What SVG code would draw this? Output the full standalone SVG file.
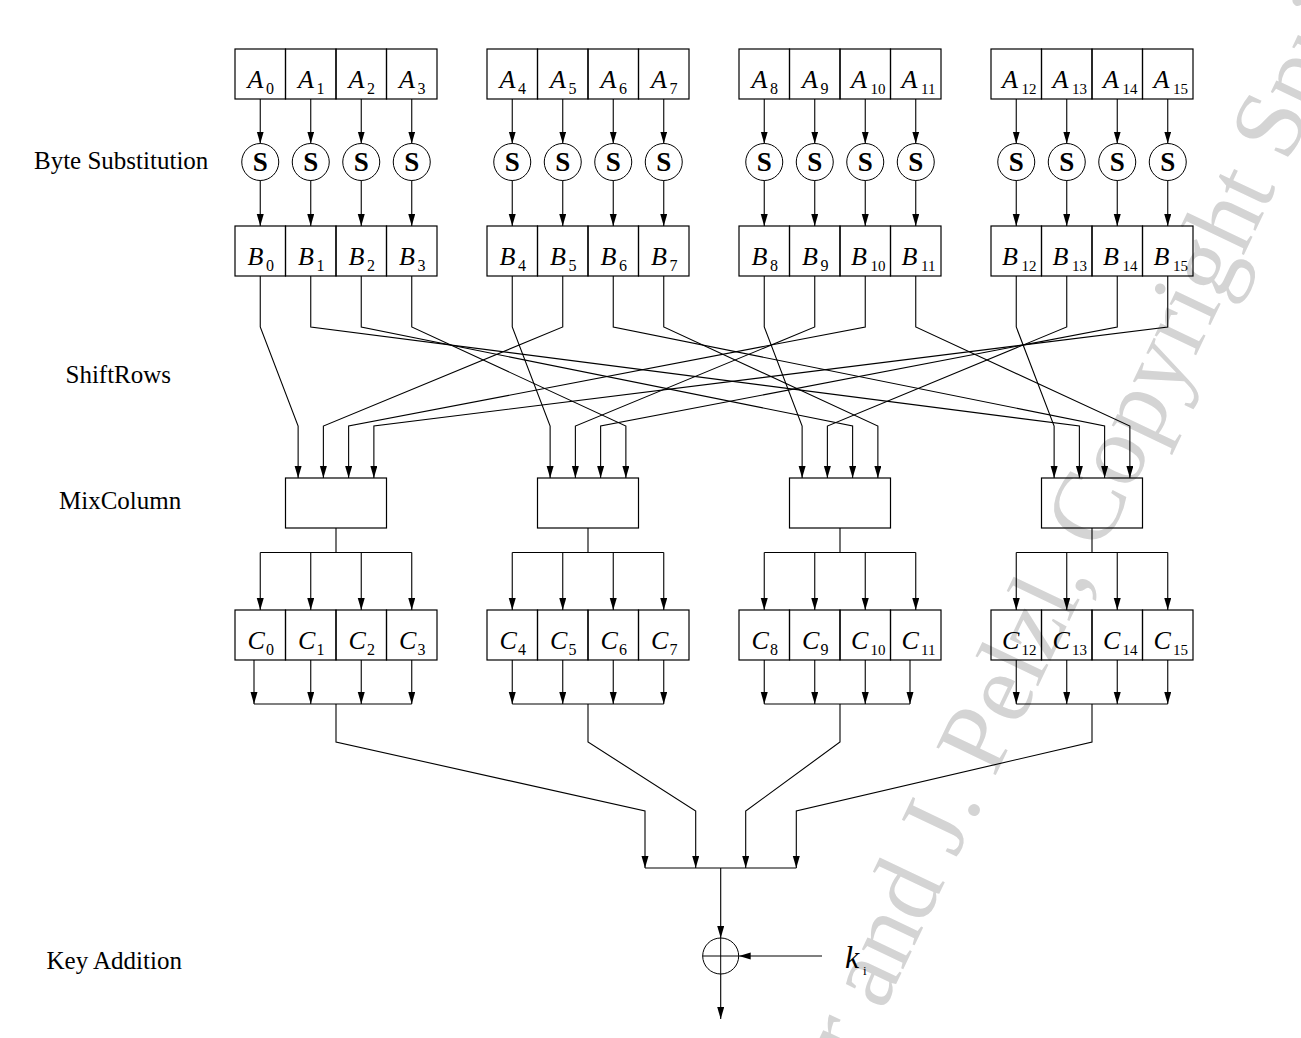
<svg xmlns="http://www.w3.org/2000/svg" width="1301" height="1038" viewBox="0 0 1301 1038">
<defs>
<marker id="arr" markerUnits="userSpaceOnUse" markerWidth="12" markerHeight="8" refX="12" refY="3.5" orient="auto"><path d="M0,0 L12,3.5 L0,7 z" fill="#000"/></marker>
<style>
rect{fill:none;stroke:#000;stroke-width:1.2}
circle{fill:none;stroke:#000;stroke-width:1}
.v{font-family:"Liberation Serif",serif;font-style:italic;font-size:26px;fill:#000}
.s{font-family:"Liberation Serif",serif;font-size:16px;fill:#000}
.d{font-family:"Liberation Serif",serif;font-size:15px;fill:#000}
.sb{font-family:"Liberation Serif",serif;font-weight:bold;font-size:27px;text-anchor:middle;fill:#000}
.lbl{font-family:"Liberation Serif",serif;font-size:25px;fill:#000}
.wm{font-family:"Liberation Serif",serif;font-size:100px;fill:#d4d4d4}
#connectors path,#connectors line{fill:none;stroke:#000;stroke-width:1.1}
.a{marker-end:url(#arr)}
</style>
</defs>
<rect x="0" y="0" width="1301" height="1038" style="fill:#fff;stroke:none"/>
<text class="wm" transform="translate(858,1064) rotate(-64.5)">r and J. Pelzl, Copyright Spri</text>

<g id="labels">
<text class="lbl" x="34" y="169">Byte Substitution</text>
<text class="lbl" x="65.5" y="383">ShiftRows</text>
<text class="lbl" x="59" y="509">MixColumn</text>
<text class="lbl" x="46.5" y="968.5">Key Addition</text>
</g>

<g id="connectors">
<!-- A to S -->
<line class="a" x1="260.25" y1="99" x2="260.25" y2="143.5"/><line class="a" x1="310.75" y1="99" x2="310.75" y2="143.5"/><line class="a" x1="361.25" y1="99" x2="361.25" y2="143.5"/><line class="a" x1="411.75" y1="99" x2="411.75" y2="143.5"/>
<line class="a" x1="512.25" y1="99" x2="512.25" y2="143.5"/><line class="a" x1="562.75" y1="99" x2="562.75" y2="143.5"/><line class="a" x1="613.25" y1="99" x2="613.25" y2="143.5"/><line class="a" x1="663.75" y1="99" x2="663.75" y2="143.5"/>
<line class="a" x1="764.25" y1="99" x2="764.25" y2="143.5"/><line class="a" x1="814.75" y1="99" x2="814.75" y2="143.5"/><line class="a" x1="865.25" y1="99" x2="865.25" y2="143.5"/><line class="a" x1="915.75" y1="99" x2="915.75" y2="143.5"/>
<line class="a" x1="1016.25" y1="99" x2="1016.25" y2="143.5"/><line class="a" x1="1066.75" y1="99" x2="1066.75" y2="143.5"/><line class="a" x1="1117.25" y1="99" x2="1117.25" y2="143.5"/><line class="a" x1="1167.75" y1="99" x2="1167.75" y2="143.5"/>
<!-- S to B -->
<line class="a" x1="260.25" y1="180.5" x2="260.25" y2="226"/><line class="a" x1="310.75" y1="180.5" x2="310.75" y2="226"/><line class="a" x1="361.25" y1="180.5" x2="361.25" y2="226"/><line class="a" x1="411.75" y1="180.5" x2="411.75" y2="226"/>
<line class="a" x1="512.25" y1="180.5" x2="512.25" y2="226"/><line class="a" x1="562.75" y1="180.5" x2="562.75" y2="226"/><line class="a" x1="613.25" y1="180.5" x2="613.25" y2="226"/><line class="a" x1="663.75" y1="180.5" x2="663.75" y2="226"/>
<line class="a" x1="764.25" y1="180.5" x2="764.25" y2="226"/><line class="a" x1="814.75" y1="180.5" x2="814.75" y2="226"/><line class="a" x1="865.25" y1="180.5" x2="865.25" y2="226"/><line class="a" x1="915.75" y1="180.5" x2="915.75" y2="226"/>
<line class="a" x1="1016.25" y1="180.5" x2="1016.25" y2="226"/><line class="a" x1="1066.75" y1="180.5" x2="1066.75" y2="226"/><line class="a" x1="1117.25" y1="180.5" x2="1117.25" y2="226"/><line class="a" x1="1167.75" y1="180.5" x2="1167.75" y2="226"/>
<!-- ShiftRows -->
<path class="a" d="M260.25 276V327L298.125 426V478"/>
<path class="a" d="M562.75 276V327L323.375 426V478"/>
<path class="a" d="M865.25 276V327L348.625 426V478"/>
<path class="a" d="M1167.75 276V327L373.875 426V478"/>
<path class="a" d="M512.25 276V327L550.125 426V478"/>
<path class="a" d="M814.75 276V327L575.375 426V478"/>
<path class="a" d="M1117.25 276V327L600.625 426V478"/>
<path class="a" d="M411.75 276V327L625.875 426V478"/>
<path class="a" d="M764.25 276V327L802.125 426V478"/>
<path class="a" d="M1066.75 276V327L827.375 426V478"/>
<path class="a" d="M361.25 276V327L852.625 426V478"/>
<path class="a" d="M663.75 276V327L877.875 426V478"/>
<path class="a" d="M1016.25 276V327L1054.125 426V478"/>
<path class="a" d="M310.75 276V327L1079.375 426V478"/>
<path class="a" d="M613.25 276V327L1104.625 426V478"/>
<path class="a" d="M915.75 276V327L1129.875 426V478"/>
<!-- MixColumn to C -->
<path d="M336 528V552.5M260.25 552.5H411.75M588 528V552.5M512.25 552.5H663.75M840 528V552.5M764.25 552.5H915.75M1092 528V552.5M1016.25 552.5H1167.75"/>
<line class="a" x1="260.25" y1="552.5" x2="260.25" y2="610"/><line class="a" x1="310.75" y1="552.5" x2="310.75" y2="610"/><line class="a" x1="361.25" y1="552.5" x2="361.25" y2="610"/><line class="a" x1="411.75" y1="552.5" x2="411.75" y2="610"/>
<line class="a" x1="512.25" y1="552.5" x2="512.25" y2="610"/><line class="a" x1="562.75" y1="552.5" x2="562.75" y2="610"/><line class="a" x1="613.25" y1="552.5" x2="613.25" y2="610"/><line class="a" x1="663.75" y1="552.5" x2="663.75" y2="610"/>
<line class="a" x1="764.25" y1="552.5" x2="764.25" y2="610"/><line class="a" x1="814.75" y1="552.5" x2="814.75" y2="610"/><line class="a" x1="865.25" y1="552.5" x2="865.25" y2="610"/><line class="a" x1="915.75" y1="552.5" x2="915.75" y2="610"/>
<line class="a" x1="1016.25" y1="552.5" x2="1016.25" y2="610"/><line class="a" x1="1066.75" y1="552.5" x2="1066.75" y2="610"/><line class="a" x1="1117.25" y1="552.5" x2="1117.25" y2="610"/><line class="a" x1="1167.75" y1="552.5" x2="1167.75" y2="610"/>
<!-- C to merge -->
<line class="a" x1="254" y1="660" x2="254" y2="704"/><line class="a" x1="310.75" y1="660" x2="310.75" y2="704"/><line class="a" x1="361.25" y1="660" x2="361.25" y2="704"/><line class="a" x1="411.75" y1="660" x2="411.75" y2="704"/>
<line class="a" x1="512.25" y1="660" x2="512.25" y2="704"/><line class="a" x1="562.75" y1="660" x2="562.75" y2="704"/><line class="a" x1="613.25" y1="660" x2="613.25" y2="704"/><line class="a" x1="663.75" y1="660" x2="663.75" y2="704"/>
<line class="a" x1="764.25" y1="660" x2="764.25" y2="704"/><line class="a" x1="814.75" y1="660" x2="814.75" y2="704"/><line class="a" x1="865.25" y1="660" x2="865.25" y2="704"/><line class="a" x1="910" y1="660" x2="910" y2="704"/>
<line class="a" x1="1016.25" y1="660" x2="1016.25" y2="704"/><line class="a" x1="1066.75" y1="660" x2="1066.75" y2="704"/><line class="a" x1="1117.25" y1="660" x2="1117.25" y2="704"/><line class="a" x1="1167.75" y1="660" x2="1167.75" y2="704"/>
<path d="M254 704H411.75M512.25 704H663.75M764.25 704H910M1016.25 704H1167.75"/>
<path class="a" d="M336 704V742L645 811V868"/>
<path class="a" d="M588 704V742L695.7 811V868"/>
<path class="a" d="M840 704V742L745.7 811V868"/>
<path class="a" d="M1092 704V742L796.3 811V868"/>
<path d="M645 868H796.3"/>
<line class="a" x1="720.7" y1="868" x2="720.7" y2="938"/>
<line class="a" x1="822" y1="956" x2="738.7" y2="956"/>
<line class="a" x1="720.7" y1="974" x2="720.7" y2="1019"/>
</g>

<g id="xor">
<circle cx="720.7" cy="956" r="18"/>
<path d="M702.7 956H738.7M720.7 938V974" style="fill:none;stroke:#000;stroke-width:1"/>
</g>
<g id="ki">
<text class="v" x="845" y="968" style="font-size:32px">k</text>
<text class="s" x="863" y="975" style="font-size:13px">i</text>
</g>

<g id="S-boxes">
<g id="S0"><circle cx="260.25" cy="162" r="18.5"/><text class="sb" x="260.25" y="171">S</text></g>
<g id="S1"><circle cx="310.75" cy="162" r="18.5"/><text class="sb" x="310.75" y="171">S</text></g>
<g id="S2"><circle cx="361.25" cy="162" r="18.5"/><text class="sb" x="361.25" y="171">S</text></g>
<g id="S3"><circle cx="411.75" cy="162" r="18.5"/><text class="sb" x="411.75" y="171">S</text></g>
<g id="S4"><circle cx="512.25" cy="162" r="18.5"/><text class="sb" x="512.25" y="171">S</text></g>
<g id="S5"><circle cx="562.75" cy="162" r="18.5"/><text class="sb" x="562.75" y="171">S</text></g>
<g id="S6"><circle cx="613.25" cy="162" r="18.5"/><text class="sb" x="613.25" y="171">S</text></g>
<g id="S7"><circle cx="663.75" cy="162" r="18.5"/><text class="sb" x="663.75" y="171">S</text></g>
<g id="S8"><circle cx="764.25" cy="162" r="18.5"/><text class="sb" x="764.25" y="171">S</text></g>
<g id="S9"><circle cx="814.75" cy="162" r="18.5"/><text class="sb" x="814.75" y="171">S</text></g>
<g id="S10"><circle cx="865.25" cy="162" r="18.5"/><text class="sb" x="865.25" y="171">S</text></g>
<g id="S11"><circle cx="915.75" cy="162" r="18.5"/><text class="sb" x="915.75" y="171">S</text></g>
<g id="S12"><circle cx="1016.25" cy="162" r="18.5"/><text class="sb" x="1016.25" y="171">S</text></g>
<g id="S13"><circle cx="1066.75" cy="162" r="18.5"/><text class="sb" x="1066.75" y="171">S</text></g>
<g id="S14"><circle cx="1117.25" cy="162" r="18.5"/><text class="sb" x="1117.25" y="171">S</text></g>
<g id="S15"><circle cx="1167.75" cy="162" r="18.5"/><text class="sb" x="1167.75" y="171">S</text></g>
</g>

<g id="A-row">
<g id="A0"><rect x="235" y="49" width="50.5" height="50"/><text class="v" x="247.5" y="88">A</text><text class="s" x="266" y="94">0</text></g>
<g id="A1"><rect x="285.5" y="49" width="50.5" height="50"/><text class="v" x="298" y="88">A</text><text class="s" x="316.5" y="94">1</text></g>
<g id="A2"><rect x="336" y="49" width="50.5" height="50"/><text class="v" x="348.5" y="88">A</text><text class="s" x="367" y="94">2</text></g>
<g id="A3"><rect x="386.5" y="49" width="50.5" height="50"/><text class="v" x="399" y="88">A</text><text class="s" x="417.5" y="94">3</text></g>
<g id="A4"><rect x="487" y="49" width="50.5" height="50"/><text class="v" x="499.5" y="88">A</text><text class="s" x="518" y="94">4</text></g>
<g id="A5"><rect x="537.5" y="49" width="50.5" height="50"/><text class="v" x="550" y="88">A</text><text class="s" x="568.5" y="94">5</text></g>
<g id="A6"><rect x="588" y="49" width="50.5" height="50"/><text class="v" x="600.5" y="88">A</text><text class="s" x="619" y="94">6</text></g>
<g id="A7"><rect x="638.5" y="49" width="50.5" height="50"/><text class="v" x="651" y="88">A</text><text class="s" x="669.5" y="94">7</text></g>
<g id="A8"><rect x="739" y="49" width="50.5" height="50"/><text class="v" x="751.5" y="88">A</text><text class="s" x="770" y="94">8</text></g>
<g id="A9"><rect x="789.5" y="49" width="50.5" height="50"/><text class="v" x="802" y="88">A</text><text class="s" x="820.5" y="94">9</text></g>
<g id="A10"><rect x="840" y="49" width="50.5" height="50"/><text class="v" x="851" y="88">A</text><text class="d" x="870.5" y="94">10</text></g>
<g id="A11"><rect x="890.5" y="49" width="50.5" height="50"/><text class="v" x="901.5" y="88">A</text><text class="d" x="921" y="94">11</text></g>
<g id="A12"><rect x="991" y="49" width="50.5" height="50"/><text class="v" x="1002" y="88">A</text><text class="d" x="1021.5" y="94">12</text></g>
<g id="A13"><rect x="1041.5" y="49" width="50.5" height="50"/><text class="v" x="1052.5" y="88">A</text><text class="d" x="1072" y="94">13</text></g>
<g id="A14"><rect x="1092" y="49" width="50.5" height="50"/><text class="v" x="1103" y="88">A</text><text class="d" x="1122.5" y="94">14</text></g>
<g id="A15"><rect x="1142.5" y="49" width="50.5" height="50"/><text class="v" x="1153.5" y="88">A</text><text class="d" x="1173" y="94">15</text></g>
</g>

<g id="B-row">
<g id="B0"><rect x="235" y="226" width="50.5" height="50"/><text class="v" x="247.5" y="265">B</text><text class="s" x="266" y="271">0</text></g>
<g id="B1"><rect x="285.5" y="226" width="50.5" height="50"/><text class="v" x="298" y="265">B</text><text class="s" x="316.5" y="271">1</text></g>
<g id="B2"><rect x="336" y="226" width="50.5" height="50"/><text class="v" x="348.5" y="265">B</text><text class="s" x="367" y="271">2</text></g>
<g id="B3"><rect x="386.5" y="226" width="50.5" height="50"/><text class="v" x="399" y="265">B</text><text class="s" x="417.5" y="271">3</text></g>
<g id="B4"><rect x="487" y="226" width="50.5" height="50"/><text class="v" x="499.5" y="265">B</text><text class="s" x="518" y="271">4</text></g>
<g id="B5"><rect x="537.5" y="226" width="50.5" height="50"/><text class="v" x="550" y="265">B</text><text class="s" x="568.5" y="271">5</text></g>
<g id="B6"><rect x="588" y="226" width="50.5" height="50"/><text class="v" x="600.5" y="265">B</text><text class="s" x="619" y="271">6</text></g>
<g id="B7"><rect x="638.5" y="226" width="50.5" height="50"/><text class="v" x="651" y="265">B</text><text class="s" x="669.5" y="271">7</text></g>
<g id="B8"><rect x="739" y="226" width="50.5" height="50"/><text class="v" x="751.5" y="265">B</text><text class="s" x="770" y="271">8</text></g>
<g id="B9"><rect x="789.5" y="226" width="50.5" height="50"/><text class="v" x="802" y="265">B</text><text class="s" x="820.5" y="271">9</text></g>
<g id="B10"><rect x="840" y="226" width="50.5" height="50"/><text class="v" x="851" y="265">B</text><text class="d" x="870.5" y="271">10</text></g>
<g id="B11"><rect x="890.5" y="226" width="50.5" height="50"/><text class="v" x="901.5" y="265">B</text><text class="d" x="921" y="271">11</text></g>
<g id="B12"><rect x="991" y="226" width="50.5" height="50"/><text class="v" x="1002" y="265">B</text><text class="d" x="1021.5" y="271">12</text></g>
<g id="B13"><rect x="1041.5" y="226" width="50.5" height="50"/><text class="v" x="1052.5" y="265">B</text><text class="d" x="1072" y="271">13</text></g>
<g id="B14"><rect x="1092" y="226" width="50.5" height="50"/><text class="v" x="1103" y="265">B</text><text class="d" x="1122.5" y="271">14</text></g>
<g id="B15"><rect x="1142.5" y="226" width="50.5" height="50"/><text class="v" x="1153.5" y="265">B</text><text class="d" x="1173" y="271">15</text></g>
</g>

<g id="MixColumn">
<g id="M0"><rect x="285.5" y="478" width="101" height="50"/></g>
<g id="M1"><rect x="537.5" y="478" width="101" height="50"/></g>
<g id="M2"><rect x="789.5" y="478" width="101" height="50"/></g>
<g id="M3"><rect x="1041.5" y="478" width="101" height="50"/></g>
</g>

<g id="C-row">
<g id="C0"><rect x="235" y="610" width="50.5" height="50"/><text class="v" x="247.5" y="649">C</text><text class="s" x="266" y="655">0</text></g>
<g id="C1"><rect x="285.5" y="610" width="50.5" height="50"/><text class="v" x="298" y="649">C</text><text class="s" x="316.5" y="655">1</text></g>
<g id="C2"><rect x="336" y="610" width="50.5" height="50"/><text class="v" x="348.5" y="649">C</text><text class="s" x="367" y="655">2</text></g>
<g id="C3"><rect x="386.5" y="610" width="50.5" height="50"/><text class="v" x="399" y="649">C</text><text class="s" x="417.5" y="655">3</text></g>
<g id="C4"><rect x="487" y="610" width="50.5" height="50"/><text class="v" x="499.5" y="649">C</text><text class="s" x="518" y="655">4</text></g>
<g id="C5"><rect x="537.5" y="610" width="50.5" height="50"/><text class="v" x="550" y="649">C</text><text class="s" x="568.5" y="655">5</text></g>
<g id="C6"><rect x="588" y="610" width="50.5" height="50"/><text class="v" x="600.5" y="649">C</text><text class="s" x="619" y="655">6</text></g>
<g id="C7"><rect x="638.5" y="610" width="50.5" height="50"/><text class="v" x="651" y="649">C</text><text class="s" x="669.5" y="655">7</text></g>
<g id="C8"><rect x="739" y="610" width="50.5" height="50"/><text class="v" x="751.5" y="649">C</text><text class="s" x="770" y="655">8</text></g>
<g id="C9"><rect x="789.5" y="610" width="50.5" height="50"/><text class="v" x="802" y="649">C</text><text class="s" x="820.5" y="655">9</text></g>
<g id="C10"><rect x="840" y="610" width="50.5" height="50"/><text class="v" x="851" y="649">C</text><text class="d" x="870.5" y="655">10</text></g>
<g id="C11"><rect x="890.5" y="610" width="50.5" height="50"/><text class="v" x="901.5" y="649">C</text><text class="d" x="921" y="655">11</text></g>
<g id="C12"><rect x="991" y="610" width="50.5" height="50"/><text class="v" x="1002" y="649">C</text><text class="d" x="1021.5" y="655">12</text></g>
<g id="C13"><rect x="1041.5" y="610" width="50.5" height="50"/><text class="v" x="1052.5" y="649">C</text><text class="d" x="1072" y="655">13</text></g>
<g id="C14"><rect x="1092" y="610" width="50.5" height="50"/><text class="v" x="1103" y="649">C</text><text class="d" x="1122.5" y="655">14</text></g>
<g id="C15"><rect x="1142.5" y="610" width="50.5" height="50"/><text class="v" x="1153.5" y="649">C</text><text class="d" x="1173" y="655">15</text></g>
</g>
</svg>
